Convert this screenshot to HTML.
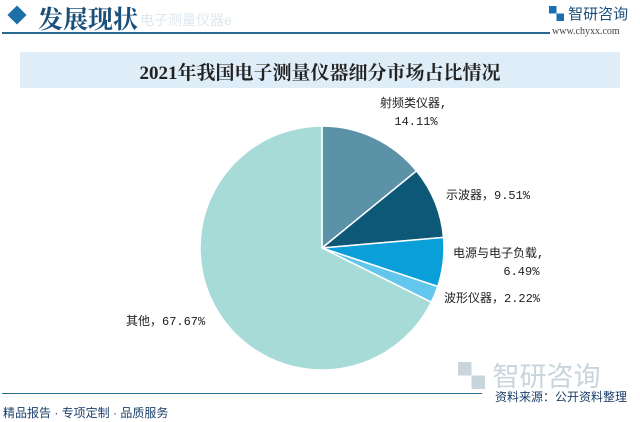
<!DOCTYPE html>
<html><head><meta charset="utf-8"><style>
body{margin:0;width:640px;height:422px;background:#fff;overflow:hidden;position:relative;font-family:"Liberation Sans","Noto Sans CJK SC",sans-serif}
.a{position:absolute;white-space:nowrap}
.m{font-family:"Liberation Mono","Noto Sans CJK SC",monospace}
</style></head><body>
<div class="a" style="left:8px;top:6px;width:18px;height:18px;background:#1d6fa8;transform:rotate(45deg) scale(.75)"></div>
<div class="a" style="left:38px;top:0px;font-size:25px;color:#1a4f7a;font-weight:bold;font-family:'Noto Serif CJK SC',serif">发展现状</div>
<div class="a" style="left:140px;top:10px;font-size:14px;color:#dde8ee">电子测量仪器e</div>
<div class="a" style="left:2px;top:32px;width:548px;height:2px;background:#2a6a8e"></div>
<div class="a" style="left:549px;top:3px;font-size:15px;color:#1a4f7a"><span style="color:#1a6fb0;font-weight:bold">▚</span> 智研咨询</div>
<div class="a" style="left:552px;top:26px;font-size:10px;color:#444;font-family:'Liberation Serif',serif">www.chyxx.com</div>
<div class="a" style="left:20px;top:52px;width:600px;height:36px;background:#deedf7"></div>
<div class="a" style="left:0;width:640px;text-align:center;top:58px;font-size:19px;font-weight:bold;color:#222;font-family:'Liberation Serif','Noto Serif CJK SC',serif">2021年我国电子测量仪器细分市场占比情况</div>
<svg class="a" style="left:0;top:0" width="640" height="422">
<g stroke="#fff" stroke-width="1.5">
<path d="M322,248 L322,126 A122,122 0 0 1 416.5,170.9Z" fill="#5c92a8"/>
<path d="M322,248 L416.5,170.9 A122,122 0 0 1 443.5,237.4Z" fill="#0d5877"/>
<path d="M322,248 L443.5,237.4 A122,122 0 0 1 437.8,286.5Z" fill="#0a9fd8"/>
<path d="M322,248 L437.8,286.5 A122,122 0 0 1 431.3,302.2Z" fill="#63c6ec"/>
<path d="M322,248 L431.3,302.2 A122,122 0 1 1 322,126Z" fill="#a6dbd8"/>
</g>
</svg>
<div class="a m" style="left:380px;top:95px;font-size:12px;color:#222;line-height:18px">射频类仪器,<br>&nbsp;&nbsp;14.11%</div>
<div class="a m" style="left:446px;top:186px;font-size:12px;color:#222">示波器，9.51%</div>
<div class="a m" style="left:453px;top:245px;font-size:12px;color:#222;line-height:18px">电源与电子负载,<br>&nbsp;&nbsp;&nbsp;&nbsp;&nbsp;&nbsp;&nbsp;6.49%</div>
<div class="a m" style="left:444px;top:289px;font-size:12px;color:#222">波形仪器，2.22%</div>
<div class="a m" style="left:126px;top:312px;font-size:12px;color:#222">其他，67.67%</div>
<div class="a" style="left:458px;top:355px;font-size:27px;color:#c9d5dc">▚ 智研咨询</div>
<div class="a" style="left:2px;top:393px;width:480px;height:1px;background:#2a6a8e"></div>
<div class="a" style="left:495px;top:388px;font-size:12px;color:#1a3f6a">资料来源：公开资料整理</div>
<div class="a" style="left:3px;top:404px;font-size:12px;color:#1a3f6a">精品报告 · 专项定制 · 品质服务</div>
</body></html>
